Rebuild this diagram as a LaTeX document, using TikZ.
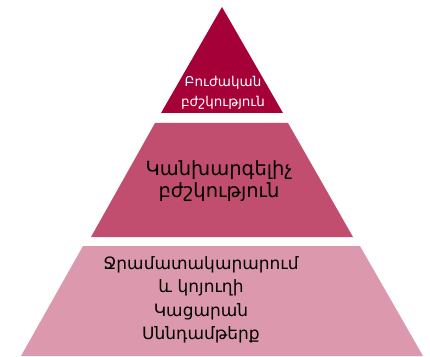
\documentclass[tikz,border=0pt]{standalone}
\usepackage{fontspec}
\setmainfont{DejaVu Sans}
\definecolor{lvltop}{RGB}{166,0,56}
\definecolor{lvlmid}{RGB}{194,78,111}
\definecolor{lvlbot}{RGB}{220,152,172}
\begin{document}
\begin{tikzpicture}[x=1pt,y=1pt]
\useasboundingbox (0,0) rectangle (430,356);
\fill[lvltop] (222,349) -- (283,243) -- (161,243) -- cycle;
\fill[lvlmid] (155,233) -- (288,233) -- (353,119) -- (91,119) -- cycle;
\fill[lvlbot] (83,110) -- (360,110) -- (423,0) -- (21,0) -- cycle;
\node[align=center, white, font=\fontsize{13.5}{19.5}\selectfont] (lvl0) at (223,263){Բուժական\\բժշկություն};
\node[align=center, font=\fontsize{19.5}{22}\selectfont] (lvl1) at (219,175){Կանխարգելիչ\\բժշկություն};
\node[align=center, font=\fontsize{17}{23.5}\selectfont] (lvl2) at (201,56){Ջրամատակարարում\\և կոյուղի\\Կացարան\\Սննդամթերք};

\end{tikzpicture}
\end{document}
